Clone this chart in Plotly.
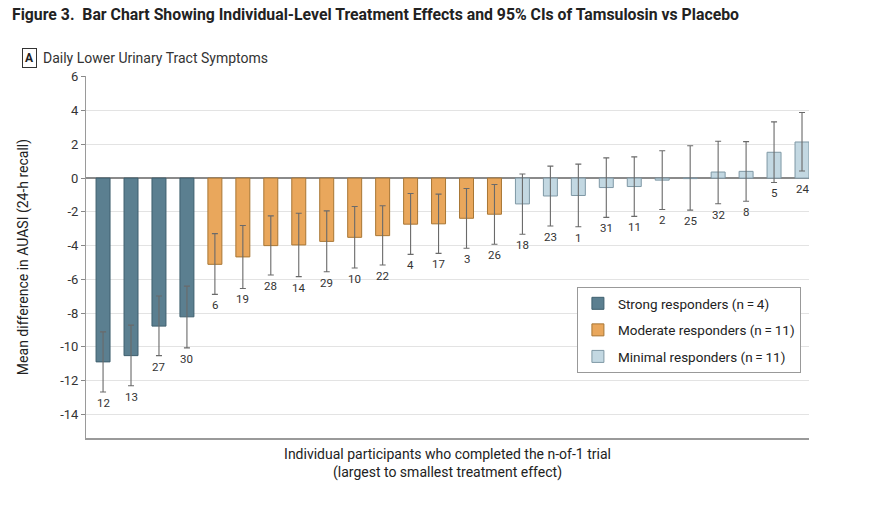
import plotly.graph_objects as go

# participants ordered from largest to smallest treatment effect
participants = ["12", "13", "27", "30",
                "6", "19", "28", "14", "29", "10", "22", "4", "17", "3", "26",
                "18", "23", "1", "31", "11", "2", "25", "32", "8", "5", "24"]
groups = ["Strong"] * 4 + ["Moderate"] * 11 + ["Minimal"] * 11
mean_diff = [-10.89, -10.52, -8.77, -8.22,
             -5.11, -4.67, -4.00, -3.96, -3.75, -3.51, -3.41, -2.73, -2.71, -2.38, -2.14,
             -1.53, -1.06, -1.03, -0.56, -0.50, -0.12, -0.03, 0.36, 0.40, 1.53, 2.14]
ci_low = [-12.67, -12.30, -10.52, -10.06,
          -6.89, -6.54, -5.74, -5.84, -5.55, -5.33, -5.15, -4.52, -4.46, -4.16, -3.92,
          -3.33, -2.84, -2.88, -2.33, -2.27, -1.86, -1.90, -1.52, -1.37, -0.26, 0.42]
ci_high = [-9.11, -8.71, -6.99, -6.40,
           -3.29, -2.81, -2.24, -2.08, -1.94, -1.68, -1.64, -0.91, -0.95, -0.62, -0.38,
           0.24, 0.71, 0.83, 1.20, 1.26, 1.62, 1.92, 2.18, 2.16, 3.33, 3.89]

group_names = {"Strong": "Strong responders (n\u2009=\u20094)",
               "Moderate": "Moderate responders (n\u2009=\u200911)",
               "Minimal": "Minimal responders (n\u2009=\u200911)"}
fills = {"Strong": "#5b7f90", "Moderate": "#e9a75c", "Minimal": "#c3d8e2"}
edges = {"Strong": "#3e5f6e", "Moderate": "#a87634", "Minimal": "#7f98a5"}

FONT = "Roboto, DejaVu Sans, sans-serif"

fig = go.Figure()
for g in ["Strong", "Moderate", "Minimal"]:
    idx = [i for i, gg in enumerate(groups) if gg == g]
    fig.add_trace(go.Bar(
        x=[participants[i] for i in idx],
        y=[mean_diff[i] for i in idx],
        name=group_names[g],
        legendgroup=g,
        width=0.5,
        marker=dict(color=fills[g], line=dict(color=edges[g], width=1)),
        error_y=dict(type="data", symmetric=False,
                     array=[ci_high[i] - mean_diff[i] for i in idx],
                     arrayminus=[mean_diff[i] - ci_low[i] for i in idx],
                     color="#6a6a6a", thickness=1.1, width=3),
        hoverinfo="skip",
    ))

# participant id labels under each bar / interval (category index on the x axis)
for i, (p, lo) in enumerate(zip(participants, ci_low)):
    fig.add_annotation(x=i, y=min(lo, 0), text=p, showarrow=False,
                       yanchor="top", yshift=-2,
                       font=dict(size=11.5, color="#333333", family=FONT))

fig.add_annotation(xref="paper", yref="paper", x=-0.0885, y=1.077, text="<b>A</b>",
                   showarrow=False, bordercolor="#333333", borderwidth=1, borderpad=2,
                   font=dict(size=12, color="#222222", family=FONT))
fig.add_annotation(xref="paper", yref="paper", x=-0.062, y=1.077, xanchor="left",
                   text="Daily Lower Urinary Tract Symptoms", showarrow=False,
                   font=dict(size=14, color="#333333", family=FONT))

fig.update_layout(
    width=874, height=506,
    margin=dict(l=86, r=65, t=76, b=68),
    paper_bgcolor="white", plot_bgcolor="white",
    barmode="overlay",
    font=dict(family=FONT, color="#333333"),
    title=dict(text="<b>Figure 3.  Bar Chart Showing Individual-Level Treatment Effects and 95% CIs of Tamsulosin vs Placebo</b>",
               xref="container", x=12 / 874, xanchor="left",
               yref="container", y=1 - 14 / 506, yanchor="middle",
               font=dict(size=15.8, color="#222222", family=FONT)),
    legend=dict(x=0.679, y=0.417, xanchor="left", yanchor="top",
                bgcolor="white", bordercolor="#999999", borderwidth=1,
                traceorder="grouped", tracegroupgap=6,
                font=dict(size=13.5, color="#222222", family=FONT)),
    showlegend=True,
)
fig.update_xaxes(type="category", categoryorder="array", categoryarray=participants,
                 range=[-0.61, 25.25], showticklabels=False, ticks="",
                 showgrid=False, showline=True, linecolor="#9a9a9a", linewidth=2,
                 title=dict(text="Individual participants who completed the n-of-1 trial<br>(largest to smallest treatment effect)",
                            font=dict(size=14, color="#222222", family=FONT), standoff=10))
fig.update_yaxes(range=[-15.4, 6.05], tickvals=list(range(-14, 7, 2)),
                 ticktext=[str(v) for v in range(-14, 7, 2)],
                 ticks="outside", ticklen=4, tickcolor="#888888",
                 showline=True, linecolor="#9a9a9a", linewidth=1,
                 gridcolor="#e3e3e3", gridwidth=1,
                 zeroline=True, zerolinecolor="#8a8a8a", zerolinewidth=1.5,
                 tickfont=dict(size=13, color="#333333", family=FONT),
                 title=dict(text="Mean difference in AUASI (24-h recall)",
                            font=dict(size=14, color="#222222", family=FONT), standoff=28))

# the page's default body margin would shift the figure by 8 px
fig.write_html("out.html", config={"displayModeBar": False},
               post_script="document.body.style.margin='0';")
